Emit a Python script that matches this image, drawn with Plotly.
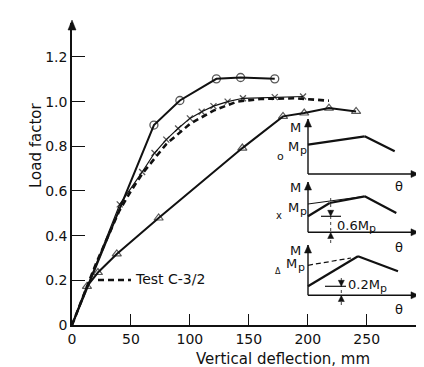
import math
import plotly.graph_objects as go

# ---------------- data ----------------
circle_x = [0, 69.5, 91.5, 122.5, 143, 172]
circle_y = [0, 0.895, 1.005, 1.102, 1.108, 1.102]

cross_x = [0, 40.5, 59.5, 70, 80, 90, 100, 110, 120, 132, 145, 172, 196]
cross_y = [0, 0.54, 0.685, 0.77, 0.83, 0.88, 0.925, 0.955, 0.98, 1.0, 1.015, 1.02, 1.023]

test_x = [0, 20, 40, 50, 60, 80, 100, 120, 140, 160, 190, 205, 218]
test_y = [0, 0.27, 0.51, 0.60, 0.68, 0.81, 0.90, 0.96, 1.0, 1.012, 1.015, 1.01, 1.004]

tri_x = [0, 12.7, 22, 38, 73.5, 144.5, 179, 197, 218, 241]
tri_y = [0, 0.173, 0.235, 0.318, 0.479, 0.792, 0.934, 0.949, 0.971, 0.956]

x_ticks = [0, 50, 100, 150, 200, 250]
y_ticks = [0, 0.2, 0.4, 0.6, 0.8, 1.0, 1.2]
y_ticklabels = ["0", "0.2", "0.4", "0.6", "0.8", "1.0", "1.2"]

legend_text = "Test C-3/2"
x_title = "Vertical deflection, mm"
y_title = "Load factor"

# ---------------- layout geometry ----------------
W, H = 424, 367
ML, MR, MT, MB = 64, 4, 15, 50
PW, PH = W - ML - MR, H - MT - MB
INK = "#111111"
FONT = "DejaVu Sans"


def P(px, py):
    """pixel position -> paper coordinates"""
    return (px - ML) / PW, (H - MB - py) / PH


fig = go.Figure()

fig.add_trace(go.Scatter(x=test_x, y=test_y, mode="lines",
                         line=dict(color=INK, width=2.6, dash="6px,4px"),
                         hoverinfo="skip", showlegend=False))
fig.add_trace(go.Scatter(x=cross_x, y=cross_y, mode="lines+markers",
                         line=dict(color=INK, width=1.2),
                         marker=dict(symbol="x-thin", size=[0] + [6] * (len(cross_x) - 1),
                                     line=dict(color=INK, width=1.3)),
                         showlegend=False))
fig.add_trace(go.Scatter(x=circle_x, y=circle_y, mode="lines+markers",
                         line=dict(color=INK, width=2),
                         marker=dict(symbol="circle-open", size=[0] + [8] * (len(circle_x) - 1),
                                     color=INK, line=dict(width=1.3)),
                         showlegend=False))
fig.add_trace(go.Scatter(x=tri_x, y=tri_y, mode="lines+markers",
                         line=dict(color=INK, width=2),
                         marker=dict(symbol="triangle-up-open", size=[0] + [8] * (len(tri_x) - 1),
                                     color=INK, line=dict(width=1.2)),
                         showlegend=False))

shapes = []
annos = []


def seg(p1, p2, width=2, dash="solid"):
    a, b = P(*p1), P(*p2)
    shapes.append(dict(type="line", xref="paper", yref="paper",
                       x0=a[0], y0=a[1], x1=b[0], y1=b[1],
                       line=dict(color=INK, width=width, dash=dash)))


def poly(pts, width=2.2):
    for i in range(len(pts) - 1):
        seg(pts[i], pts[i + 1], width)


def head(tip, tail, length=8, half=3.5):
    dx, dy = tip[0] - tail[0], tip[1] - tail[1]
    n = math.hypot(dx, dy)
    ux, uy = dx / n, dy / n
    bx, by = tip[0] - ux * length, tip[1] - uy * length
    pts = [tip, (bx - uy * half, by + ux * half), (bx + uy * half, by - ux * half)]
    pp = [P(*q) for q in pts]
    path = "M {} {} L {} {} L {} {} Z".format(pp[0][0], pp[0][1], pp[1][0], pp[1][1],
                                              pp[2][0], pp[2][1])
    shapes.append(dict(type="path", xref="paper", yref="paper", path=path,
                       fillcolor=INK, line=dict(color=INK, width=0.5)))


def arrow(tip, tail, width=1.4, length=8, half=3.5):
    seg(tail, tip, width)
    head(tip, tail, length, half)


def text(p, s, size=14, xanchor="center", yanchor="middle"):
    t = P(*p)
    annos.append(dict(x=t[0], y=t[1], xref="paper", yref="paper", text=s,
                      showarrow=False, xanchor=xanchor, yanchor=yanchor,
                      font=dict(family=FONT, size=size, color=INK)))


def mp(left_px, y_px, prefix=""):
    """draws '<prefix>M' followed by a subscript p (no SVG sub tags)"""
    size = 13
    widths = {"0": 8.3, ".": 4.1, "2": 8.3, "6": 8.3, "M": 11.2}
    w = sum(widths.get(c, 8) for c in prefix + "M")
    text((left_px, y_px), prefix + "M", size=size, xanchor="left")
    text((left_px + w + 0.5, y_px + 4), "p", size=11, xanchor="left")


# main axis arrows (heads only; the axis lines are the plot's axes)
head((64, 12), (64, 40), length=10, half=4)
head((423, 317), (395, 317), length=10, half=4)

# label for test curve
seg((90, 272), (123, 272), width=2.6, dash="6px,4px")
text((125, 271), legend_text, size=14, xanchor="left")

# axis titles
annos.append(dict(x=P(17, 92)[0], y=P(17, 92)[1], xref="paper", yref="paper",
                  text=y_title, textangle=-90, showarrow=False,
                  font=dict(family=FONT, size=15, color=INK)))
text((275, 351), x_title, size=15)

# ---- inset 1 (circles) ----
arrow((300, 111), (300, 166))
arrow((411, 166), (300, 166))
text((287, 119), "M", size=13)
text((272, 148), "o", size=11)
mp(278, 138)
text((391, 178), "θ", size=13)
poly([(300, 136.7), (356.7, 128.3), (386.7, 143.3)])

# ---- inset 2 (crosses) ----
arrow((300, 174), (300, 224.3))
arrow((411, 224.3), (300, 224.3))
text((287, 179), "M", size=13)
text((271, 207), "x", size=10)
mp(278, 199)
text((391, 240), "θ", size=13)
seg((300, 196), (356.7, 188.3), width=1)
poly([(300, 208.3), (321.7, 195), (356.7, 188.3), (388.3, 205)])
seg((322.7, 190), (322.7, 238), width=0.8, dash="dot")
seg((313, 208.3), (333, 208.3), width=1.2)
head((322.7, 208.3), (322.7, 199), length=6, half=3)
head((322.7, 224.5), (322.7, 234), length=6, half=3)
mp(327, 217, prefix="0.6")

# ---- inset 3 (triangles) ----
arrow((300, 237), (300, 287.3))
arrow((411, 287.3), (300, 287.3))
text((287, 242), "M", size=13)
text((270, 263), "Δ", size=8)
mp(276, 255)
text((391, 301), "θ", size=13)
seg((300, 257.3), (343, 250), width=1.2, dash="5px,3px")
poly([(300, 278.3), (350, 248.3), (390, 263.3)])
seg((333.3, 270), (333.3, 300), width=0.8, dash="dot")
seg((317, 278.3), (338, 278.3), width=1.2)
head((333.3, 278.3), (333.3, 270), length=6, half=3)
head((333.3, 287.5), (333.3, 297), length=6, half=3)
mp(338, 276, prefix="0.2")

fig.update_layout(
    width=W, height=H,
    margin=dict(l=ML, r=MR, t=MT, b=MB),
    paper_bgcolor="white", plot_bgcolor="white",
    font=dict(family=FONT, size=14, color=INK),
    shapes=shapes, annotations=annos,
    xaxis=dict(range=[0, 302], tickvals=x_ticks, ticks="inside", ticklen=11,
               tickwidth=1, tickcolor=INK, showline=True, linecolor=INK, linewidth=1.6,
               showgrid=False, zeroline=False, tickfont=dict(size=14, family=FONT)),
    yaxis=dict(range=[0, 1.352], tickvals=y_ticks, ticktext=y_ticklabels, ticks="inside",
               ticklen=13, tickwidth=1, tickcolor=INK, showline=True, linecolor=INK,
               linewidth=1.6, showgrid=False, zeroline=False,
               tickfont=dict(size=14, family=FONT)),
)

fig.write_html("out.html")
